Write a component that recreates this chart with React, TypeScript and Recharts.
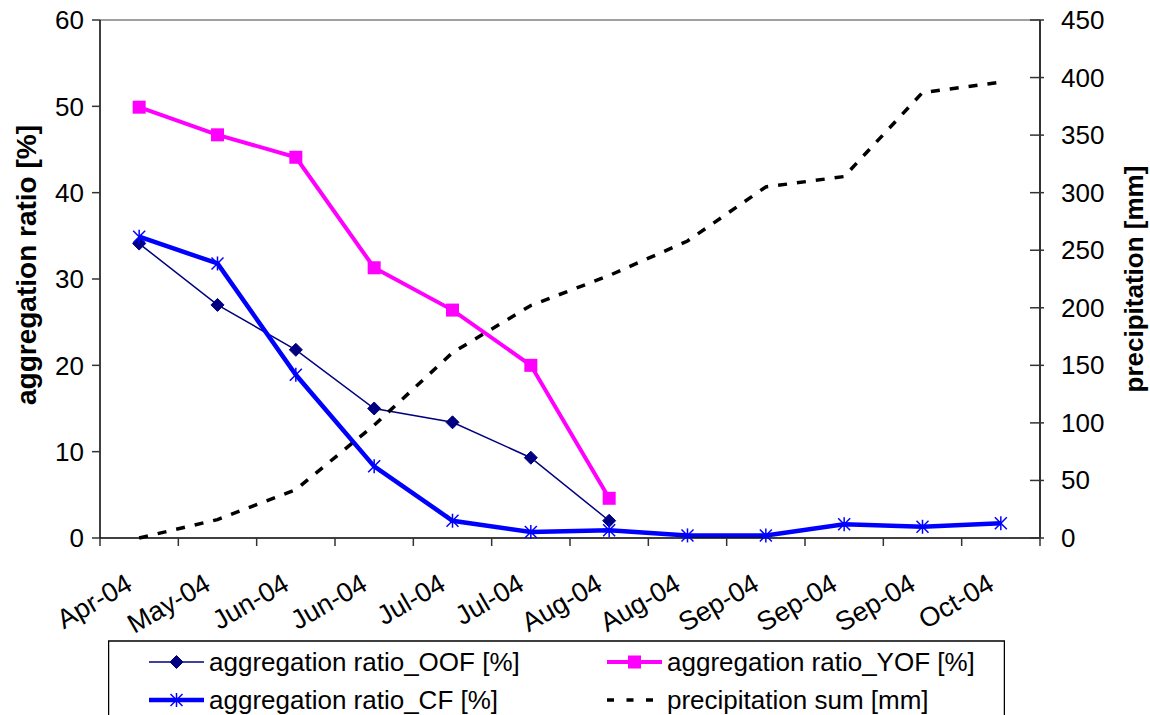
import { LineChart, Line, XAxis, YAxis, Legend, ReferenceLine } from "recharts";

const months = [
  "Apr-04", "May-04", "Jun-04", "Jun-04", "Jul-04", "Jul-04",
  "Aug-04", "Aug-04", "Sep-04", "Sep-04", "Sep-04", "Oct-04",
];
const oofRatio = [34.1, 27.0, 21.8, 15.0, 13.4, 9.3, 2.0];
const yofRatio = [49.9, 46.7, 44.1, 31.3, 26.4, 20.0, 4.6];
const cfRatio = [34.9, 31.8, 18.9, 8.3, 2.0, 0.7, 0.9, 0.3, 0.3, 1.6, 1.3, 1.7];
const precipSum = [0, 16, 42, 98, 161, 202, 228, 258, 305, 314, 387, 396];

const leftTicks = [0, 10, 20, 30, 40, 50, 60];
const rightTicks = [0, 50, 100, 150, 200, 250, 300, 350, 400, 450];
const xTicks = [0, 1, 2, 3, 4, 5, 6, 7, 8, 9, 10, 11, 12];

const seriesNames = [
  "aggregation ratio_OOF [%]",
  "aggregation ratio_YOF [%]",
  "aggregation ratio_CF [%]",
  "precipitation sum [mm]",
];

const data = months.map((m, i) => ({
  x: i + 0.5,
  month: m,
  oof: oofRatio[i] ?? null,
  yof: yofRatio[i] ?? null,
  cf: cfRatio[i],
  rain: precipSum[i],
}));

const FONT = "'Liberation Sans', Arial, sans-serif";
const W = 1150;
const H = 715;
const TOP = 20;
const BOTTOM = 538;
const NAVY = "#000080";
const PINK = "#ff00ff";
const BLUE = "#0000ff";

function Diamond(props: any) {
  const { cx, cy, index } = props;
  if (cx == null || cy == null) return <g key={index} />;
  const r = 6.5;
  return (
    <polygon
      key={index}
      points={`${cx},${cy - r} ${cx + r},${cy} ${cx},${cy + r} ${cx - r},${cy}`}
      fill={NAVY}
      stroke={NAVY}
    />
  );
}

function Square(props: any) {
  const { cx, cy, index } = props;
  if (cx == null || cy == null) return <g key={index} />;
  return <rect key={index} x={cx - 6.5} y={cy - 6.5} width={13} height={13} fill={PINK} />;
}

function Asterisk(props: any) {
  const { cx, cy, index } = props;
  if (cx == null || cy == null) return <g key={index} />;
  const r = 7;
  const d = 6;
  return (
    <g key={index} stroke={BLUE} strokeWidth={1.5}>
      <line x1={cx} y1={cy - r} x2={cx} y2={cy + r} />
      <line x1={cx - d} y1={cy - d} x2={cx + d} y2={cy + d} />
      <line x1={cx - d} y1={cy + d} x2={cx + d} y2={cy - d} />
    </g>
  );
}

function MonthTick(props: any) {
  const { x, y, payload } = props;
  const label = months[payload.value];
  if (!label) return <g />;
  const ax = x + 34;
  const ay = y + 41;
  return (
    <text
      x={ax}
      y={ay}
      transform={`rotate(-30 ${ax} ${ay})`}
      textAnchor="end"
      fontFamily={FONT}
      fontSize={27}
      fill="#000"
    >
      {label}
    </text>
  );
}

function RightTick(props: any) {
  const { x, y, payload } = props;
  const axisX = x - 21;
  return (
    <g>
      <line x1={axisX - 10} y1={y} x2={axisX + 4} y2={y} stroke="#333" strokeWidth={1.5} />
      <text x={x} y={y} dy={9} textAnchor="start" fontFamily={FONT} fontSize={26} fill="#000">
        {payload.value}
      </text>
    </g>
  );
}

function LeftTitle() {
  const cx = 27;
  const cy = (TOP + BOTTOM) / 2 - 14;
  return (
    <text
      x={cx}
      y={cy}
      transform={`rotate(-90 ${cx} ${cy})`}
      textAnchor="middle"
      dy={9}
      fontFamily={FONT}
      fontSize={28}
      fontWeight="bold"
      fill="#000"
    >
      aggregation ratio [%]
    </text>
  );
}

function RightTitle() {
  const cx = 1134;
  const cy = (TOP + BOTTOM) / 2;
  return (
    <text
      x={cx}
      y={cy}
      transform={`rotate(-90 ${cx} ${cy})`}
      textAnchor="middle"
      dy={9}
      fontFamily={FONT}
      fontSize={26}
      fontWeight="bold"
      fill="#000"
    >
      precipitation [mm]
    </text>
  );
}

function LegendBox() {
  const w = 897;
  const h = 75;
  const rows = [22, 60];
  const cols = [41, 499];
  const textStyle = { fontFamily: FONT, fontSize: 26, fill: "#000" };
  return (
    <svg width={w} height={h} style={{ display: "block" }}>
      <path d={`M0.5,${h} V1 H${w - 0.5} V${h}`} fill="none" stroke="#000" strokeWidth={1.5} />
      {/* OOF */}
      <line x1={cols[0]} y1={rows[0]} x2={cols[0] + 55} y2={rows[0]} stroke={NAVY} strokeWidth={1.5} />
      <Diamond cx={cols[0] + 27.5} cy={rows[0]} index="l0" />
      <text x={cols[0] + 60} y={rows[0]} dy={9} {...textStyle}>{seriesNames[0]}</text>
      {/* YOF */}
      <line x1={cols[1]} y1={rows[0]} x2={cols[1] + 55} y2={rows[0]} stroke={PINK} strokeWidth={4} />
      <Square cx={cols[1] + 27.5} cy={rows[0]} index="l1" />
      <text x={cols[1] + 60} y={rows[0]} dy={9} {...textStyle}>{seriesNames[1]}</text>
      {/* CF */}
      <line x1={cols[0]} y1={rows[1]} x2={cols[0] + 55} y2={rows[1]} stroke={BLUE} strokeWidth={4.5} />
      <Asterisk cx={cols[0] + 27.5} cy={rows[1]} index="l2" />
      <text x={cols[0] + 60} y={rows[1]} dy={9} {...textStyle}>{seriesNames[2]}</text>
      {/* precipitation */}
      <line
        x1={cols[1]}
        y1={rows[1]}
        x2={cols[1] + 46}
        y2={rows[1]}
        stroke="#000"
        strokeWidth={3.5}
        strokeDasharray="7 12.5"
      />
      <text x={cols[1] + 60} y={rows[1]} dy={9} {...textStyle}>{seriesNames[3]}</text>
    </svg>
  );
}

export default function App() {
  return (
    <div
      style={{
        position: "absolute",
        left: 0,
        top: 0,
        width: W,
        height: H,
        overflow: "hidden",
        background: "#fff",
      }}
    >
      <LineChart width={W} height={H} data={data} margin={{ top: TOP, right: 0, bottom: 77, left: 0 }}>
        <XAxis
          dataKey="x"
          type="number"
          domain={[0, 12]}
          ticks={xTicks}
          interval={0}
          height={100}
          tick={<MonthTick />}
          tickSize={8}
          tickMargin={2}
          axisLine={{ stroke: "#000", strokeWidth: 1.5 }}
          tickLine={{ stroke: "#333", strokeWidth: 1.5 }}
        />
        <YAxis
          yAxisId="left"
          domain={[0, 60]}
          ticks={leftTicks}
          interval={0}
          width={100}
          tickSize={8}
          tickMargin={8}
          tick={{ fill: "#000", fontSize: 26, fontFamily: FONT }}
          axisLine={{ stroke: "#000", strokeWidth: 1.5 }}
          tickLine={{ stroke: "#333", strokeWidth: 1.5 }}
          label={<LeftTitle />}
        />
        <YAxis
          yAxisId="right"
          orientation="right"
          domain={[0, 450]}
          ticks={rightTicks}
          interval={0}
          width={110}
          tickSize={0}
          tickMargin={21}
          tick={<RightTick />}
          axisLine={{ stroke: "#333", strokeWidth: 2 }}
          label={<RightTitle />}
        />
        <ReferenceLine yAxisId="left" y={60} stroke="#808080" strokeWidth={1.5} />
        <Legend
          layout="horizontal"
          verticalAlign="middle"
          align="center"
          wrapperStyle={{ left: 108, top: 640, width: 897, height: 75 }}
          content={() => <LegendBox />}
        />
        <Line
          yAxisId="left"
          dataKey="oof"
          type="linear"
          stroke={NAVY}
          strokeWidth={1.5}
          dot={(p: any) => <Diamond {...p} key={`oof-${p.index}`} />}
          isAnimationActive={false}
        />
        <Line
          yAxisId="left"
          dataKey="yof"
          type="linear"
          stroke={PINK}
          strokeWidth={4}
          dot={(p: any) => <Square {...p} key={`yof-${p.index}`} />}
          isAnimationActive={false}
        />
        <Line
          yAxisId="left"
          dataKey="cf"
          type="linear"
          stroke={BLUE}
          strokeWidth={4.5}
          dot={(p: any) => <Asterisk {...p} key={`cf-${p.index}`} />}
          isAnimationActive={false}
        />
        <Line
          yAxisId="right"
          dataKey="rain"
          type="linear"
          stroke="#000"
          strokeWidth={3.5}
          strokeDasharray="9 10"
          dot={false}
          isAnimationActive={false}
        />
      </LineChart>
    </div>
  );
}
